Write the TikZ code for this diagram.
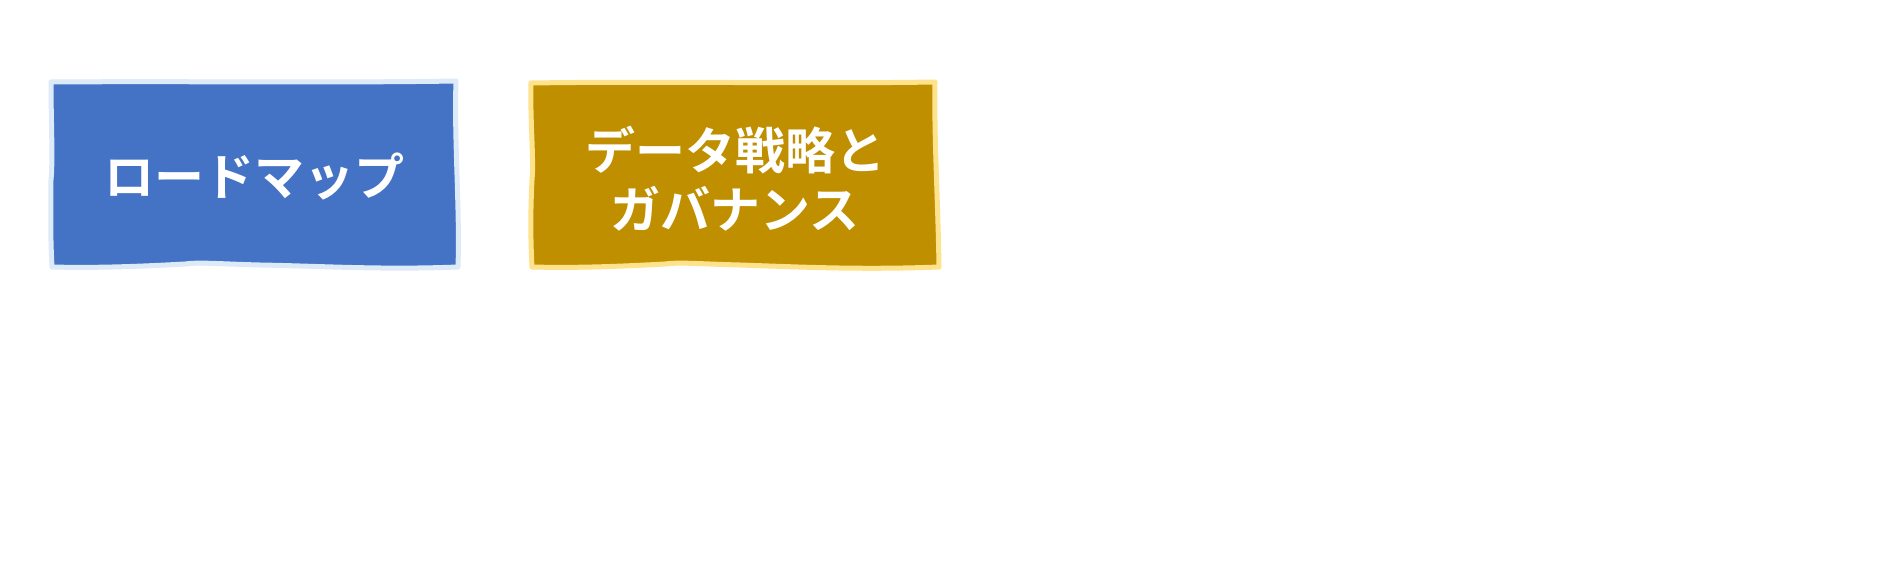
\documentclass[tikz,border=0pt]{standalone}
\usepackage{fontspec}
\newfontfamily\jpfont{Noto Sans CJK JP}[BoldFont={Noto Sans CJK JP Bold}]
\definecolor{bluefill}{HTML}{4472C4}
\definecolor{blueedge}{HTML}{DDEAF7}
\definecolor{goldfill}{HTML}{BF8F00}
\definecolor{goldedge}{HTML}{FFE28C}
\tikzset{
  x=1pt, y=-1pt,
  boxlabel/.style={text=white, font=\jpfont\bfseries\fontsize{50}{59}\selectfont, align=center, inner sep=0pt},
  bluebox/.style={fill=bluefill, draw=blueedge, line width=5pt, line join=round},
  goldbox/.style={fill=goldfill, draw=goldedge, line width=5pt, line join=round}
}
\begin{document}
\begin{tikzpicture}
\useasboundingbox[fill=white] (0,0) rectangle (1899,560);
% blue box
\path[bluebox] (51,82) .. controls (180,81) and (330,83) .. (456,81)
  .. controls (454,140) and (460,210) .. (458,267)
  .. controls (380,270) and (320,266) .. (260,265)
  .. controls (220,264) and (200,262) .. (185,264)
  .. controls (130,267) and (90,268) .. (52,267)
  .. controls (50,230) and (51,200) .. (51,180)
  .. controls (53,160) and (51,120) .. (51,82) -- cycle;
\node[boxlabel] (roadmap) at (254,176) {ロードマップ};
% gold box
\path[goldbox] (531,83) .. controls (660,81) and (810,84) .. (935,82)
  .. controls (934,140) and (938,200) .. (939,267)
  .. controls (860,270) and (800,267) .. (740,265)
  .. controls (700,264) and (680,262) .. (665,264)
  .. controls (610,267) and (570,268) .. (532,267)
  .. controls (530,230) and (531,200) .. (532,180)
  .. controls (534,160) and (530,120) .. (531,83) -- cycle;
\node[boxlabel] (strategy) at (735,179) {データ戦略と\\ガバナンス};
\end{tikzpicture}
\end{document}
